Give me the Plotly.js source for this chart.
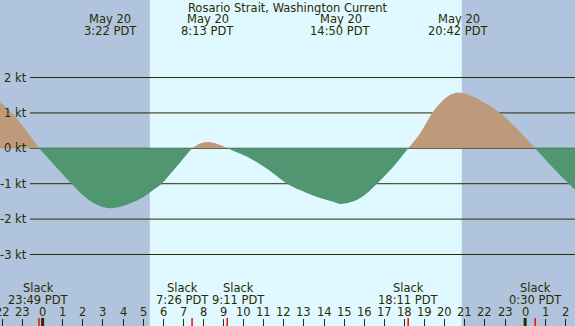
<!DOCTYPE html>
<html>
<head>
<meta charset="utf-8">
<script src="https://cdn.plot.ly/plotly-3.0.1.min.js"></script>
<style>html,body{margin:0;padding:0;background:#b0c4de;}#chart{width:575px;height:326px;}</style>
</head>
<body>
<div id="chart"></div>
<script>
// Hours relative to midnight May 20 (negative = May 19, >24 = May 21)
const floodA_t = [-2.2, -1.54, -0.96, -0.47, -0.183];
const floodA_v = [1.34, 1.0, 0.61, 0.23, 0];
const ebbB_t = [-0.183, 0.5, 1.0, 1.44, 2.19, 2.85, 3.367, 4.0, 4.5, 5.0, 5.5, 5.92, 6.5, 7.0, 7.433];
const ebbB_v = [0, -0.42, -0.73, -1.0, -1.41, -1.63, -1.69, -1.63, -1.52, -1.38, -1.18, -1.0, -0.63, -0.29, 0];
const floodC_t = [7.433, 7.8, 8.217, 8.7, 9.183];
const floodC_v = [0, 0.13, 0.18, 0.12, 0];
const ebbD_t = [9.183, 9.48, 10.31, 11.14, 12.17, 12.8, 13.63, 14.46, 14.833, 15.62, 16.12, 16.62, 17.44, 18.183];
const ebbD_v = [0, -0.07, -0.28, -0.57, -1.0, -1.18, -1.37, -1.51, -1.57, -1.46, -1.27, -1.0, -0.52, 0];
const floodE_t = [18.183, 18.77, 19.38, 19.77, 20.27, 20.7, 21.42, 22.09, 22.75, 23.58, 24.5];
const floodE_v = [0, 0.42, 1.0, 1.27, 1.51, 1.58, 1.46, 1.25, 1.0, 0.56, 0];
const ebbF_t = [24.5, 25.5, 26.6];
const ebbF_v = [0, -0.62, -1.24];

const sunTimes = [5.33, 20.85];           // sunrise, sunset
const peakTimes = [3.367, 8.217, 14.833, 20.7];
const peakLabels = ["3:22 PDT", "8:13 PDT", "14:50 PDT", "20:42 PDT"];
const peakDate = "May 20";
const slackTimes = [-0.183, 7.433, 9.183, 18.183, 24.5];
const slackLabels = ["23:49 PDT", "7:26 PDT", "9:11 PDT", "18:11 PDT", "0:30 PDT"];
const midnights = [0, 24];
const hourVals = [-2,-1,0,1,2,3,4,5,6,7,8,9,10,11,12,13,14,15,16,17,18,19,20,21,22,23,24,25,26];
const hourText = ["22","23","0","1","2","3","4","5","6","7","8","9","10","11","12","13","14","15","16","17","18","19","20","21","22","23","0","1","2"];
const gridVals = [2, 1, 0, -1, -2, -3];
const gridText = ["2 kt", "1 kt", "0 kt", "-1 kt", "-2 kt", "-3 kt"];

const W = 575, H = 326;
const TXT = '#2b2b00';
const FONT = 'DejaVu Sans';
const BROWN = '#bc9a7a';
const GREEN = '#509670';
const NIGHT = '#b0c4de';
const DAY = '#e0f8ff';
const slackShift = [0, -10, 11, 0, 0];   // label nudges to avoid overlap

function seg(t, v, col) {
  return {x: t, y: v, type: 'scatter', mode: 'lines', fill: 'tozeroy',
          fillcolor: col, line: {width: 0, shape: 'spline', smoothing: 1, color: col},
          hoverinfo: 'skip', showlegend: false};
}
const data = [
  seg(floodA_t, floodA_v, BROWN), seg(ebbB_t, ebbB_v, GREEN),
  seg(floodC_t, floodC_v, BROWN), seg(ebbD_t, ebbD_v, GREEN),
  seg(floodE_t, floodE_v, BROWN), seg(ebbF_t, ebbF_v, GREEN)
];

const py = p => 1 - p / H;
const shapes = [];
shapes.push({type: 'rect', xref: 'x', yref: 'paper', x0: sunTimes[0], x1: sunTimes[1], y0: 0, y1: 1,
             fillcolor: DAY, line: {width: 0}, layer: 'below'});
gridVals.forEach(g => shapes.push({type: 'line', xref: 'paper', yref: 'y', x0: 30 / W, x1: 1, y0: g, y1: g,
             line: {color: TXT, width: 1}, layer: 'below'}));
midnights.forEach(m => shapes.push({type: 'line', xref: 'x', yref: 'paper', x0: m, x1: m, y0: 0, y1: 8 / H,
             line: {color: TXT, width: 3}}));
slackTimes.forEach(s => shapes.push({type: 'line', xref: 'x', yref: 'paper', x0: s, x1: s, y0: 0, y1: 8 / H,
             line: {color: '#ff0000', width: 1.5}}));

const annotations = [];
const f = {family: FONT, size: 11.5, color: TXT};
gridVals.forEach((g, i) => annotations.push({xref: 'paper', yref: 'y', x: 28.5 / W, y: g, text: gridText[i],
             xanchor: 'right', yanchor: 'middle', showarrow: false, font: f}));
peakTimes.forEach((t, i) => {
  annotations.push({xref: 'x', yref: 'paper', x: t, y: py(19.5), text: peakDate, xanchor: 'center', yanchor: 'middle', showarrow: false, font: f});
  annotations.push({xref: 'x', yref: 'paper', x: t, y: py(31.3), text: peakLabels[i], xanchor: 'center', yanchor: 'middle', showarrow: false, font: f});
});
slackTimes.forEach((t, i) => {
  annotations.push({xref: 'x', yref: 'paper', x: t, y: py(287.8), text: 'Slack', xanchor: 'center', yanchor: 'middle', xshift: slackShift[i], showarrow: false, font: f});
  annotations.push({xref: 'x', yref: 'paper', x: t, y: py(299.8), text: slackLabels[i], xanchor: 'center', yanchor: 'middle', xshift: slackShift[i], showarrow: false, font: f});
});
hourVals.forEach((h, i) => annotations.push({xref: 'x', yref: 'paper', x: h, y: py(312), text: hourText[i],
             xanchor: 'center', yanchor: 'middle', showarrow: false, font: f}));

const layout = {
  width: W, height: H,
  margin: {l: 0, r: 0, t: 0, b: 0, pad: 0},
  paper_bgcolor: NIGHT, plot_bgcolor: NIGHT,
  title: {text: 'Rosario Strait, Washington Current', font: f, x: 0.5, xanchor: 'center',
          yref: 'container', y: 1 - 7.5 / H, yanchor: 'middle', pad: {t: 0, b: 0}},
  xaxis: {range: [-2.12, 26.48], showgrid: false, zeroline: false, showline: false,
          tickmode: 'array', tickvals: hourVals, ticktext: hourVals.map(() => ''),
          ticks: 'inside', ticklen: 7, tickwidth: 1, tickcolor: TXT, fixedrange: true},
  yaxis: {range: [-5.02, 4.19], visible: false, showgrid: false, zeroline: false, fixedrange: true},
  shapes: shapes, annotations: annotations, showlegend: false,
  font: {family: FONT, size: 11.5, color: TXT}
};
Plotly.newPlot('chart', data, layout, {staticPlot: true, displayModeBar: false});
</script>
</body>
</html>
